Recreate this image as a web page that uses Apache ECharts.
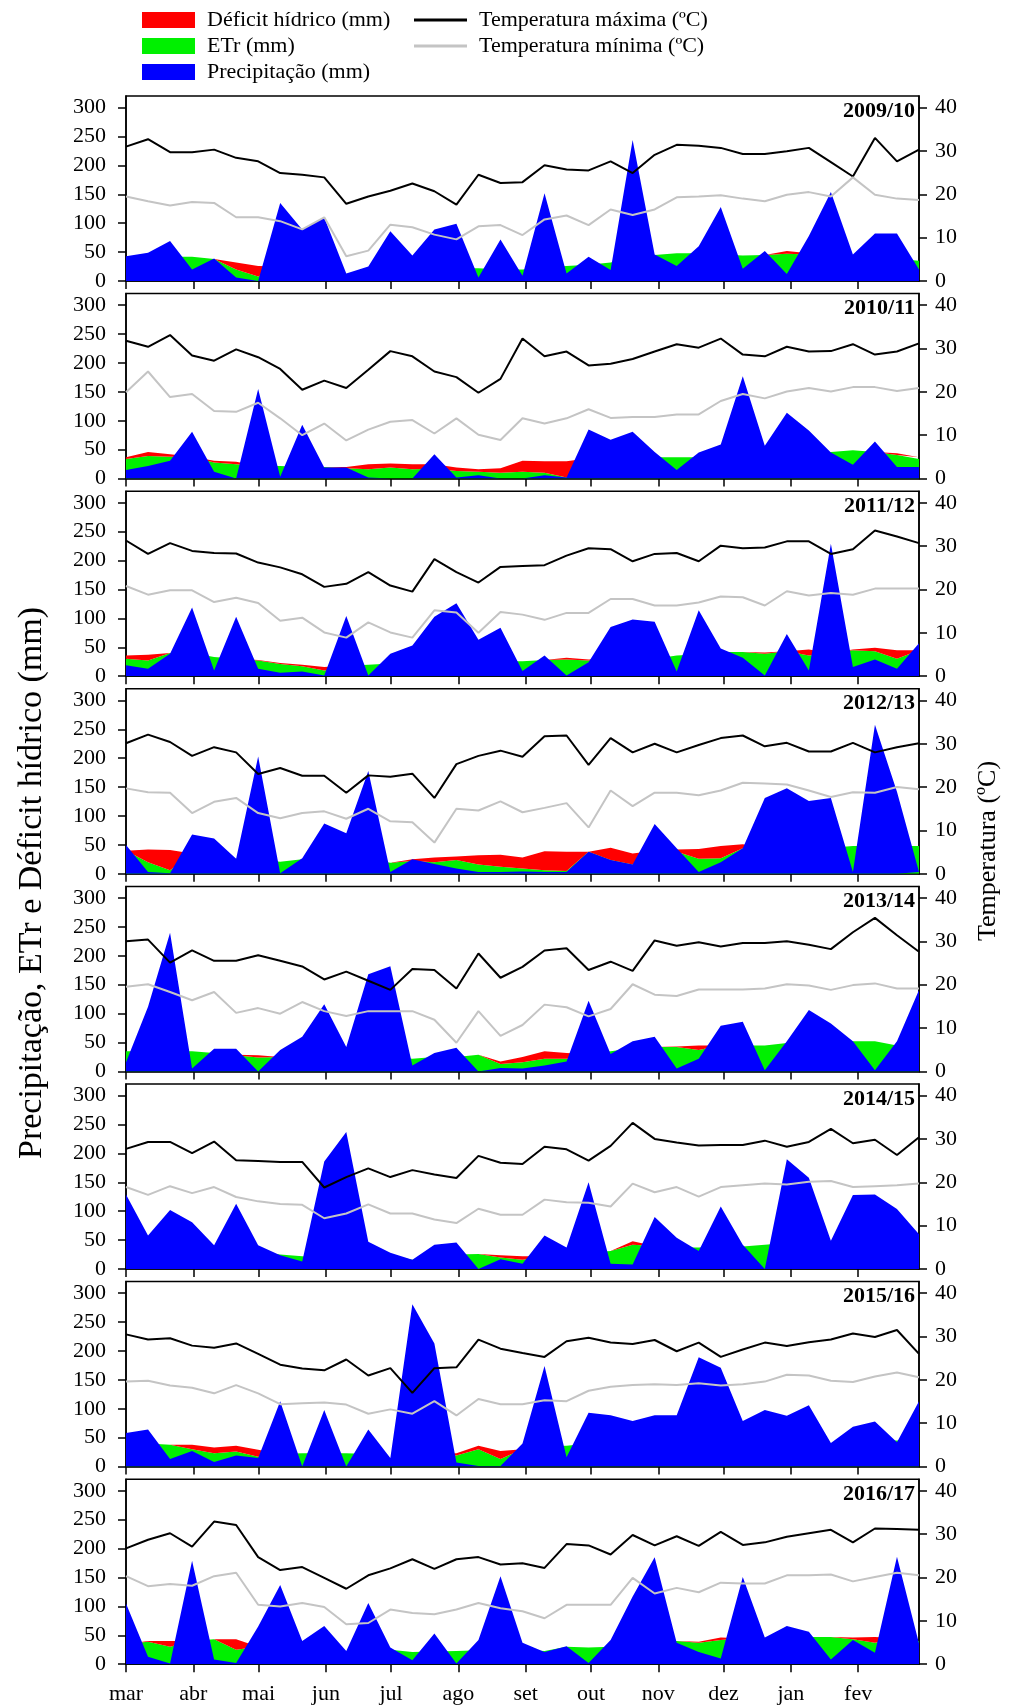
<!DOCTYPE html>
<html>
<head>
<meta charset="utf-8">
<script src="https://cdn.jsdelivr.net/npm/echarts@6/dist/echarts.min.js"></script>
<style>
    html, body { margin: 0; padding: 0; background: #fff; }
    #chart { width: 1019px; height: 1708px; }
</style>
</head>
<body>
<div id="chart"></div>
<script>
// meses (eixo x) e dia de início de cada mês a partir de 1 de março
const months = ['mar', 'abr', 'mai', 'jun', 'jul', 'ago', 'set', 'out', 'nov', 'dez', 'jan', 'fev'];
const monthStartDay = [0, 31, 61, 92, 122, 153, 184, 214, 245, 275, 306, 337];
const mmTicks = [0, 50, 100, 150, 200, 250, 300];
const tempTicks = [0, 10, 20, 30, 40];

// 2009/10
const prec_2009 = [43,49,69,20,39,6,0,135,89,110,13,25,86,44,89,99,6,72,9,152,13,42,19,244,46,26,60,128,21,52,12,78,154,46,82,82,20];
const etr_2009 = [40,40,42,42,38,20,8,25,25,25,12,22,22,22,22,22,22,20,20,24,26,28,32,40,45,48,48,46,44,45,47,46,40,40,40,38,35];
const def_2009 = [0,0,0,0,0,12,18,0,0,0,0,0,0,0,0,0,0,0,0,0,0,0,0,0,0,0,0,0,0,0,5,2,0,0,0,0,0];
const tmax_2009 = [31.0,32.7,29.7,29.7,30.3,28.4,27.6,24.9,24.5,23.9,17.8,19.5,20.8,22.5,20.7,17.6,24.5,22.6,22.8,26.7,25.7,25.5,27.6,24.9,29.1,31.4,31.2,30.7,29.3,29.3,29.9,30.7,27.4,24.1,33.0,27.6,30.3];
const tmin_2009 = [19.5,18.4,17.4,18.2,18.0,14.7,14.7,13.8,11.9,14.7,5.7,7.0,13.0,12.4,10.7,9.6,12.6,12.9,10.6,14.2,15.1,12.9,16.5,15.2,16.5,19.3,19.5,19.8,19.0,18.4,19.9,20.5,19.5,23.9,19.9,19.0,18.7];

// 2010/11
const prec_2010 = [15,22,31,81,12,0,155,3,93,19,19,2,0,0,42,2,6,0,0,6,2,85,67,81,46,15,45,59,177,57,114,83,45,24,64,20,20];
const etr_2010 = [34,39,38,38,28,25,22,22,20,20,18,16,19,16,17,13,12,10,12,10,2,35,35,35,37,37,37,38,40,42,44,45,46,49,46,41,34];
const def_2010 = [3,7,4,0,3,4,0,0,0,0,2,9,7,9,8,6,4,8,19,20,28,0,0,0,0,0,0,0,0,0,0,0,0,0,0,3,3];
const tmax_2010 = [31.8,30.4,33.1,28.4,27.2,29.8,28.0,25.3,20.5,22.6,20.9,25.1,29.4,28.2,24.7,23.4,19.8,23.0,32.3,28.2,29.3,26.1,26.5,27.6,29.3,31.0,30.2,32.3,28.6,28.2,30.4,29.3,29.4,31.0,28.6,29.3,31.2];
const tmin_2010 = [19.9,24.7,18.8,19.5,15.6,15.4,17.5,13.9,10.0,12.7,8.8,11.3,13.1,13.5,10.4,13.9,10.1,8.9,13.9,12.7,13.9,16.0,14.0,14.2,14.2,14.8,14.8,17.9,19.5,18.5,20.1,20.9,20.1,21.1,21.1,20.2,20.9];

// 2011/12
const prec_2011 = [19,13,39,119,10,103,13,6,8,1,104,1,39,53,103,126,63,84,9,36,1,24,85,98,94,8,114,48,32,1,73,10,229,16,29,13,57];
const etr_2011 = [30,27,40,40,33,30,27,21,17,10,18,20,22,24,24,25,25,26,26,28,29,27,30,30,30,36,38,42,42,39,43,36,40,45,43,30,45];
const def_2011 = [6,10,0,0,0,0,1,2,3,6,0,0,0,0,0,0,0,0,0,0,3,2,0,0,0,0,0,0,0,2,0,10,0,1,6,15,0];
const tmax_2011 = [31.3,28.2,30.7,28.9,28.4,28.3,26.2,25.1,23.5,20.6,21.3,24.0,20.9,19.5,27.0,24.0,21.6,25.2,25.4,25.6,27.8,29.5,29.3,26.5,28.2,28.4,26.5,30.1,29.5,29.7,31.1,31.1,28.2,29.3,33.6,32.2,30.7];
const tmin_2011 = [20.8,18.8,19.8,19.8,17.1,18.1,16.9,12.8,13.5,10.1,8.9,12.4,10.1,8.9,15.2,14.7,10.0,14.8,14.2,13.0,14.6,14.6,17.8,17.8,16.3,16.3,17.0,18.4,18.2,16.3,19.6,18.6,19.2,18.8,20.2,20.2,20.2];

// 2012/13
const prec_2012 = [50,3,1,68,61,26,203,1,27,87,70,178,3,25,17,9,3,3,4,3,3,38,24,16,86,44,3,20,44,131,148,126,131,3,258,142,3];
const etr_2012 = [40,20,6,35,30,26,25,21,25,25,25,25,19,22,20,24,16,12,9,6,5,38,24,16,40,38,26,27,44,45,45,45,45,48,48,48,48];
const def_2012 = [0,22,35,0,0,0,0,0,0,0,0,0,0,3,8,6,16,21,19,33,33,0,21,19,0,4,17,21,7,0,0,0,0,0,0,0,0];
const tmax_2012 = [30.1,32.1,30.4,27.2,29.2,28.0,23.0,24.4,22.6,22.6,18.7,22.7,22.4,23.1,17.5,25.3,27.2,28.4,27.0,31.7,31.9,25.1,31.3,28.0,30.0,28.0,29.7,31.3,31.9,29.4,30.2,28.2,28.2,30.2,28.0,29.2,30.1];
const tmin_2012 = [19.7,18.8,18.7,14.0,16.6,17.5,14.0,12.8,14.0,14.4,12.7,15.0,12.1,11.9,7.2,15.0,14.6,16.7,14.2,15.2,16.3,10.7,19.2,15.6,18.7,18.7,18.1,19.2,21.0,20.8,20.6,19.2,17.7,18.8,18.7,20.0,19.5];

// 2013/14
const prec_2013 = [16,112,240,5,39,39,0,37,60,116,42,168,182,10,32,41,0,6,5,10,17,122,30,52,60,5,22,79,86,2,52,106,83,52,2,52,141];
const etr_2013 = [35,35,35,35,32,28,24,25,25,25,25,25,25,22,25,25,29,13,16,22,22,30,35,40,42,42,37,45,45,45,49,50,50,52,52,45,45];
const def_2013 = [0,0,0,0,0,1,4,0,0,0,0,0,0,0,0,0,0,4,9,13,10,0,0,0,0,1,8,0,0,0,0,0,0,0,0,0,0];
const tmax_2013 = [30.0,30.4,25.1,27.9,25.5,25.5,26.8,25.5,24.2,21.2,23.0,20.9,18.8,23.6,23.4,19.1,27.2,21.6,24.1,27.9,28.4,23.4,25.3,23.2,30.2,29.0,29.8,28.8,29.6,29.6,30.0,29.2,28.2,32.1,35.4,31.4,27.6];
const tmin_2013 = [19.5,20.1,18.3,16.4,18.3,13.5,14.6,13.3,16.0,13.9,12.8,13.9,13.9,13.9,11.9,6.6,13.9,8.2,10.7,15.4,14.8,12.7,14.4,20.1,17.7,17.4,18.9,18.9,18.9,19.1,20.1,19.8,18.8,19.9,20.3,19.1,19.1];

// 2014/15
const prec_2014 = [129,58,102,81,41,113,41,24,13,186,237,47,28,16,42,46,0,17,9,58,37,150,9,8,90,54,31,108,42,0,190,158,49,128,129,104,60];
const etr_2014 = [40,38,38,38,35,32,30,25,22,20,20,22,24,16,25,25,26,20,16,22,25,28,31,42,40,37,37,39,39,42,45,45,45,45,45,45,45];
const def_2014 = [0,0,0,0,0,0,0,0,0,0,0,0,0,0,0,0,0,4,6,0,0,0,0,6,0,0,0,0,0,0,0,0,0,0,0,0,0];
const tmax_2014 = [27.7,29.3,29.3,26.7,29.4,25.1,24.9,24.7,24.7,18.8,21.2,23.2,21.2,22.8,21.8,21.0,26.1,24.5,24.2,28.2,27.6,25.0,28.4,33.7,30.0,29.2,28.5,28.6,28.6,29.6,28.2,29.3,32.3,29.0,29.8,26.3,30.4];
const tmin_2014 = [18.9,17.1,19.1,17.5,18.9,16.6,15.6,15.0,14.8,11.7,12.8,14.9,12.8,12.8,11.4,10.6,13.9,12.5,12.5,16.0,15.4,15.3,14.4,19.7,17.7,18.9,16.7,18.9,19.3,19.7,19.5,20.1,20.3,18.9,19.1,19.3,19.7];

// 2015/16
const prec_2015 = [58,64,13,27,8,19,15,113,0,98,0,64,15,281,213,7,1,1,40,174,16,93,89,79,89,89,189,171,79,98,88,106,41,69,78,42,113];
const etr_2015 = [40,40,38,30,23,26,17,22,23,23,23,22,15,22,22,19,30,13,30,35,36,40,40,40,40,40,40,40,42,42,44,45,40,45,45,45,45];
const def_2015 = [0,0,0,8,10,10,12,0,0,0,0,0,0,0,0,4,6,14,0,0,0,0,0,0,0,0,0,0,0,0,0,0,0,0,0,0,0];
const tmax_2015 = [30.5,29.3,29.6,27.9,27.4,28.4,26.0,23.5,22.6,22.2,24.7,21.0,22.7,17.0,22.7,22.9,29.3,27.2,26.2,25.3,28.9,29.7,28.6,28.3,29.2,26.6,28.6,25.3,27.0,28.6,27.8,28.7,29.3,30.7,29.9,31.5,26.0];
const tmin_2015 = [19.6,19.8,18.7,18.2,16.9,18.8,16.9,14.4,14.6,14.8,14.3,12.2,13.2,12.2,15.1,11.8,15.6,14.4,14.4,15.3,15.1,17.5,18.4,18.8,19.0,18.8,19.2,18.7,19.0,19.6,21.2,21.0,19.8,19.5,20.8,21.7,20.6];

// 2016/17
const prec_2016 = [105,13,1,179,8,2,65,137,40,66,23,106,29,7,53,1,42,152,37,21,31,2,42,117,185,37,21,10,151,46,66,56,8,42,20,186,36];
const etr_2016 = [35,39,30,40,43,25,30,30,30,25,22,25,25,21,22,23,24,25,25,23,30,29,30,35,40,40,37,42,45,45,47,47,47,43,37,45,40];
const def_2016 = [0,1,10,0,0,18,0,0,0,0,0,0,0,0,0,0,0,0,0,0,0,0,0,0,0,0,2,4,0,0,0,0,0,3,10,0,0];
const tmax_2016 = [26.7,28.7,30.2,27.1,32.9,32.1,24.7,21.7,22.4,19.9,17.4,20.5,22.1,24.2,22.0,24.2,24.7,23.0,23.3,22.2,27.7,27.4,25.3,29.8,27.4,29.5,27.3,30.5,27.5,28.1,29.4,30.2,31.0,28.1,31.3,31.2,31.0];
const tmin_2016 = [20.3,18.0,18.5,18.1,20.3,21.1,13.7,13.3,14.1,13.2,9.2,9.5,12.6,11.8,11.5,12.6,14.1,12.9,12.2,10.6,13.7,13.7,13.7,19.9,16.3,17.6,16.6,18.8,18.6,18.6,20.5,20.5,20.7,19.1,20.1,21.1,20.5];

const seasons = [
    { label: '2009/10', prec: prec_2009, etr: etr_2009, def: def_2009, tmax: tmax_2009, tmin: tmin_2009 },
    { label: '2010/11', prec: prec_2010, etr: etr_2010, def: def_2010, tmax: tmax_2010, tmin: tmin_2010 },
    { label: '2011/12', prec: prec_2011, etr: etr_2011, def: def_2011, tmax: tmax_2011, tmin: tmin_2011 },
    { label: '2012/13', prec: prec_2012, etr: etr_2012, def: def_2012, tmax: tmax_2012, tmin: tmin_2012 },
    { label: '2013/14', prec: prec_2013, etr: etr_2013, def: def_2013, tmax: tmax_2013, tmin: tmin_2013 },
    { label: '2014/15', prec: prec_2014, etr: etr_2014, def: def_2014, tmax: tmax_2014, tmin: tmin_2014 },
    { label: '2015/16', prec: prec_2015, etr: etr_2015, def: def_2015, tmax: tmax_2015, tmin: tmin_2015 },
    { label: '2016/17', prec: prec_2016, etr: etr_2016, def: def_2016, tmax: tmax_2016, tmin: tmin_2016 }
];

const FONT = 'Liberation Serif';
const NPTS = 36;                       // decêndios: pontos 0..36
const decendios = Array.from({ length: NPTS + 1 }, (_, i) => i);
const monthTickPos = monthStartDay.map(d => d * NPTS / 365);
const MM_MAX = 320;
const T_MAX = MM_MAX * 40 / 300;       // 300 mm alinhado com 40 ºC

const gridTop0 = 96, gridStep = 197.6, gridH = 185;

function monthName(v) {
    let best = 0;
    monthTickPos.forEach((t, j) => {
        if (Math.abs(t - v) < Math.abs(monthTickPos[best] - v)) best = j;
    });
    return months[best];
}

let grids = [], xAxes = [], yAxes = [], series = [], titles = [];

seasons.forEach((s, k) => {
    const top = gridTop0 + k * gridStep;
    const last = k === seasons.length - 1;

    grids.push({ left: 126, right: 100, top: top, height: gridH, show: true, borderColor: '#000', borderWidth: 1.5, backgroundColor: 'transparent' });

    titles.push({
        text: s.label, right: 104, top: top + 4, padding: 0,
        textStyle: { fontFamily: FONT, fontWeight: 'bold', fontSize: 22, color: '#000' }
    });

    // eixo de categorias (decêndios) para os dados, oculto
    xAxes.push({
        type: 'category', gridIndex: k, data: decendios, boundaryGap: false, show: false
    });
    // eixo de meses, só para marcas e rótulos
    xAxes.push({
        type: 'value', gridIndex: k, min: 0, max: NPTS, position: 'bottom',
        axisLine: { show: true, lineStyle: { color: '#000', width: 1.5 } },
        axisTick: { show: true, inside: false, length: 8, lineStyle: { color: '#000', width: 1.5 }, customValues: monthTickPos },
        axisLabel: {
            show: last, customValues: monthTickPos, formatter: monthName,
            fontFamily: FONT, fontSize: 22, color: '#000', margin: 19
        },
        splitLine: { show: false }
    });

    yAxes.push({
        type: 'value', gridIndex: k, position: 'left', min: 0, max: MM_MAX, interval: 50,
        axisLine: { show: true, lineStyle: { color: '#000', width: 1.5 } },
        axisTick: { show: true, length: 8, lineStyle: { color: '#000', width: 1.5 }, customValues: mmTicks },
        axisLabel: { customValues: mmTicks, fontFamily: FONT, fontSize: 22, color: '#000', margin: 20 },
        splitLine: { show: false }
    });
    yAxes.push({
        type: 'value', gridIndex: k, position: 'right', min: 0, max: T_MAX, interval: 10,
        axisLine: { show: true, lineStyle: { color: '#000', width: 1.5 } },
        axisTick: { show: true, length: 8, lineStyle: { color: '#000', width: 1.5 }, customValues: tempTicks },
        axisLabel: { customValues: tempTicks, fontFamily: FONT, fontSize: 22, color: '#000', margin: 16 },
        splitLine: { show: false }
    });

    const area = (name, data, color, z, stack) => ({
        name: name, type: 'line', xAxisIndex: 2 * k, yAxisIndex: 2 * k,
        stack: stack, data: data, symbol: 'none', z: z,
        itemStyle: { color: color },
        lineStyle: { width: 0, color: color },
        areaStyle: { color: color, opacity: 1 }
    });
    // ETr na base, déficit empilhado por cima (ETr + déficit = ETP)
    series.push(area('ETr (mm)', s.etr, '#00f000', 1, 'w' + k));
    series.push(area('Déficit hídrico (mm)', s.def, '#ff0000', 1, 'w' + k));
    series.push(area('Precipitação (mm)', s.prec, '#0000ff', 2));

    const line = (name, data, color, w) => ({
        name: name, type: 'line', xAxisIndex: 2 * k, yAxisIndex: 2 * k + 1,
        data: data, symbol: 'none', z: 3,
        itemStyle: { color: color },
        lineStyle: { color: color, width: w }
    });
    series.push(line('Temperatura máxima (ºC)', s.tmax, '#000000', 2));
    series.push(line('Temperatura mínima (ºC)', s.tmin, '#c4c4c4', 2));
});

const legendText = { fontFamily: FONT, fontSize: 22, color: '#000', padding: [0, 0, 0, 7] };

const option = {
    animation: false,
    backgroundColor: '#fff',
    title: titles,
    legend: [
        {
            orient: 'vertical', left: 142, top: 9, padding: 0, itemWidth: 53, itemHeight: 16, itemGap: 4,
            icon: 'rect', selectedMode: false, textStyle: legendText,
            data: ['Déficit hídrico (mm)', 'ETr (mm)', 'Precipitação (mm)']
        },
        {
            orient: 'vertical', left: 414, top: 9, padding: 0, itemWidth: 53, itemHeight: 3, itemGap: 4,
            icon: 'rect', selectedMode: false, textStyle: legendText,
            data: ['Temperatura máxima (ºC)', 'Temperatura mínima (ºC)']
        }
    ],
    grid: grids,
    xAxis: xAxes,
    yAxis: yAxes,
    series: series,
    graphic: [
        {
            type: 'text', x: 32, y: 883, rotation: Math.PI / 2,
            style: {
                text: 'Precipitação, ETr e Déficit hídrico (mm)', fill: '#000',
                font: '34px "Liberation Serif"', textAlign: 'center', textVerticalAlign: 'middle',
                align: 'center', verticalAlign: 'middle'
            }
        },
        {
            type: 'text', x: 988, y: 851, rotation: Math.PI / 2,
            style: {
                text: 'Temperatura (ºC)', fill: '#000',
                font: '26px "Liberation Serif"', textAlign: 'center', textVerticalAlign: 'middle',
                align: 'center', verticalAlign: 'middle'
            }
        }
    ]
};

const myChart = echarts.init(document.getElementById('chart'));
myChart.setOption(option);
</script>
</body>
</html>
